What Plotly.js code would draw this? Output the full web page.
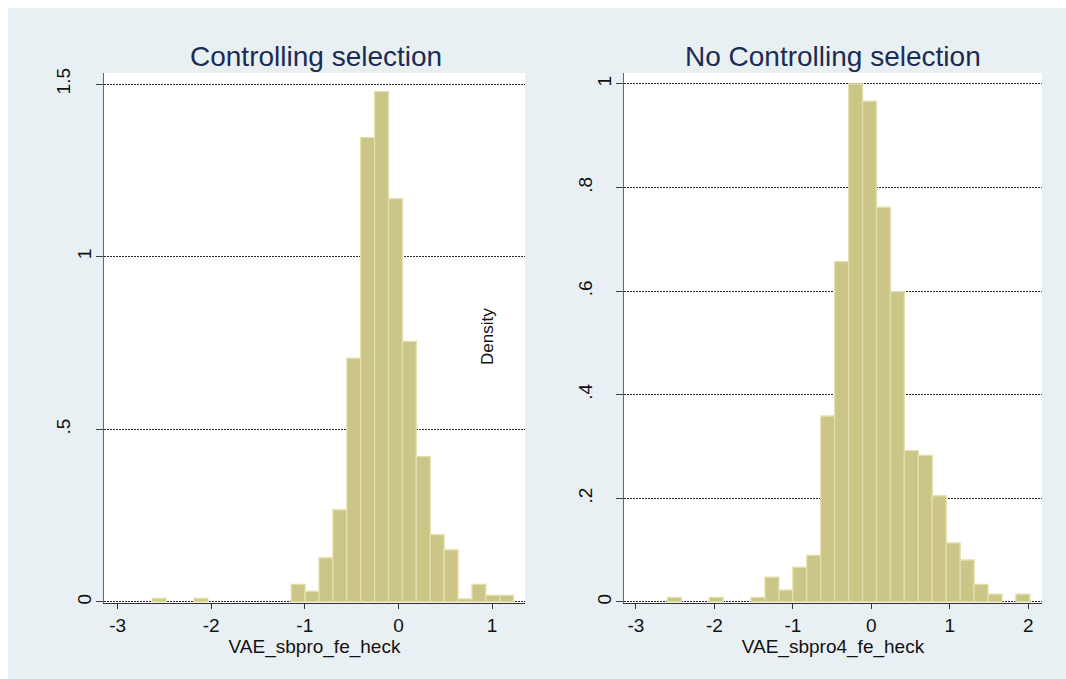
<!DOCTYPE html>
<html>
<head>
<meta charset="utf-8">
<script src="https://cdn.plot.ly/plotly-3.0.1.min.js"></script>
<style>
  html, body { margin: 0; padding: 0; background: #ffffff; }
  #chart { position: absolute; left: 8px; top: 8px; width: 1058px; height: 671px; }
</style>
</head>
<body>
<div id="chart"></div>
<script>
// ---- Data (histogram densities) ----
const leftTitle = "Controlling selection";
const rightTitle = "No Controlling selection";
const leftXLabel = "VAE_sbpro_fe_heck";
const rightXLabel = "VAE_sbpro4_fe_heck";
const yLabel = "Density";

const leftBinWidth = 0.1485;
const leftCenters = [-2.556, -2.111, -1.071, -0.922, -0.774, -0.625, -0.477, -0.328, -0.180, -0.031,
                     0.117, 0.266, 0.414, 0.563, 0.711, 0.860, 1.008, 1.157];
const leftDensity = [0.010, 0.010, 0.051, 0.031, 0.128, 0.267, 0.706, 1.345, 1.478, 1.168,
                     0.755, 0.421, 0.195, 0.151, 0.009, 0.051, 0.019, 0.019];

const rightBinWidth = 0.1777;
const rightCenters = [-2.511, -1.978, -1.445, -1.267, -1.090, -0.912, -0.734, -0.556, -0.379, -0.201,
                      -0.023, 0.154, 0.332, 0.510, 0.688, 0.865, 1.043, 1.221, 1.398, 1.576, 1.931];
const rightDensity = [0.009, 0.009, 0.009, 0.048, 0.023, 0.067, 0.090, 0.359, 0.657, 1.000,
                      0.967, 0.762, 0.599, 0.292, 0.283, 0.205, 0.114, 0.081, 0.034, 0.015, 0.015];

const leftXTicks = [-3, -2, -1, 0, 1];
const rightXTicks = [-3, -2, -1, 0, 1, 2];
const leftYTicks = [0, 0.5, 1, 1.5];
const leftYTickText = ["0", ".5", "1", "1.5"];
const rightYTicks = [0, 0.2, 0.4, 0.6, 0.8, 1];
const rightYTickText = ["0", ".2", ".4", ".6", ".8", "1"];

// ---- Styling ----
const FONT = "'Liberation Sans', Arial, sans-serif";
const barFill = "#cbc588";
const barEdge = "#e3dfac";
const titleColor = "#1c2b52";

function bars(x, y, w, xa, ya) {
  return {
    type: "bar", x: x, y: y, width: x.map(() => w),
    xaxis: xa, yaxis: ya,
    marker: { color: barFill, line: { color: barEdge, width: 1.3 } },
    hoverinfo: "x+y", showlegend: false
  };
}
function empty(xa, ya) {
  return { type: "scatter", mode: "markers", x: [], y: [], xaxis: xa, yaxis: ya, showlegend: false, hoverinfo: "skip" };
}

// split tick labels: long labels on the main axis, one-character ones on an overlay axis
function longText(vals, txt) { return txt.map(t => (t.length > 1 ? t : "")); }
function shortVals(vals, txt) { return vals.filter((v, i) => txt[i].length === 1); }
function shortText(txt) { return txt.filter(t => t.length === 1); }

const data = [
  bars(leftCenters, leftDensity, leftBinWidth, "x", "y"),
  bars(rightCenters, rightDensity, rightBinWidth, "x2", "y2"),
  empty("x", "y3"),
  empty("x2", "y4")
];

const yDomain = [0.1133, 0.9031];
const leftYRange = [-0.003, 1.532];
const rightYRange = [-0.002, 1.0212];

const xCommon = {
  showgrid: false, zeroline: false, showline: true, linecolor: "#333", linewidth: 1,
  ticks: "outside", ticklen: 5, tickcolor: "#333", tickwidth: 1,
  tickfont: { family: FONT, size: 19, color: "#111" },
  tickmode: "array", fixedrange: true
};
const yMain = {
  showgrid: true, gridcolor: "#2a2a2a", gridwidth: 1, griddash: "2px,1px",
  zeroline: false, showline: true, linecolor: "#666", linewidth: 1,
  ticks: "outside", ticklen: 7, tickcolor: "#444", tickwidth: 1,
  tickangle: -90, tickmode: "array",
  tickfont: { family: FONT, size: 19, color: "#111" },
  domain: yDomain, fixedrange: true
};
const yOver = {
  showgrid: false, zeroline: false, showline: false, ticks: "",
  tickangle: -90, tickmode: "array",
  tickfont: { family: FONT, size: 19, color: "#111" },
  domain: yDomain, fixedrange: true, side: "left"
};

const layout = {
  width: 1058, height: 671,
  margin: { l: 0, r: 0, t: 0, b: 0, pad: 0 },
  paper_bgcolor: "#e9f0f3",
  plot_bgcolor: "#ffffff",
  font: { family: FONT, color: "#111" },
  showlegend: false,
  xaxis: Object.assign({}, xCommon, {
    domain: [0.0907, 0.4887], range: [-3.146, 1.353], anchor: "y",
    tickvals: leftXTicks, ticktext: leftXTicks.map(String),
    title: { text: leftXLabel, font: { family: FONT, size: 19, color: "#111" }, standoff: 2 }
  }),
  xaxis2: Object.assign({}, xCommon, {
    domain: [0.5822, 0.9773], range: [-3.153, 2.175], anchor: "y2",
    tickvals: rightXTicks, ticktext: rightXTicks.map(String),
    title: { text: rightXLabel, font: { family: FONT, size: 19, color: "#111" }, standoff: 2 }
  }),
  yaxis: Object.assign({}, yMain, {
    range: leftYRange, anchor: "x",
    tickvals: leftYTicks, ticktext: longText(leftYTicks, leftYTickText), ticklabelstandoff: 18
  }),
  yaxis2: Object.assign({}, yMain, {
    range: rightYRange, anchor: "x2",
    tickvals: rightYTicks, ticktext: longText(rightYTicks, rightYTickText), ticklabelstandoff: 16
  }),
  yaxis3: Object.assign({}, yOver, {
    range: leftYRange, anchor: "x", overlaying: "y",
    tickvals: shortVals(leftYTicks, leftYTickText), ticktext: shortText(leftYTickText), ticklabelstandoff: 8
  }),
  yaxis4: Object.assign({}, yOver, {
    range: rightYRange, anchor: "x2", overlaying: "y2",
    tickvals: shortVals(rightYTicks, rightYTickText), ticktext: shortText(rightYTickText), ticklabelstandoff: 8
  }),
  annotations: [
    { text: leftTitle, xref: "paper", yref: "paper", x: 0.2911, y: 0.927, xanchor: "center", yanchor: "middle",
      showarrow: false, font: { family: FONT, size: 28, color: titleColor } },
    { text: rightTitle, xref: "paper", yref: "paper", x: 0.7798, y: 0.927, xanchor: "center", yanchor: "middle",
      showarrow: false, font: { family: FONT, size: 28, color: titleColor } },
    { text: yLabel, xref: "paper", yref: "paper", x: 0.4537, y: 0.5097, xanchor: "center", yanchor: "middle",
      textangle: -90, showarrow: false, font: { family: FONT, size: 17, color: "#111" } }
  ]
};

Plotly.newPlot("chart", data, layout, { staticPlot: true, displayModeBar: false });
</script>
</body>
</html>
